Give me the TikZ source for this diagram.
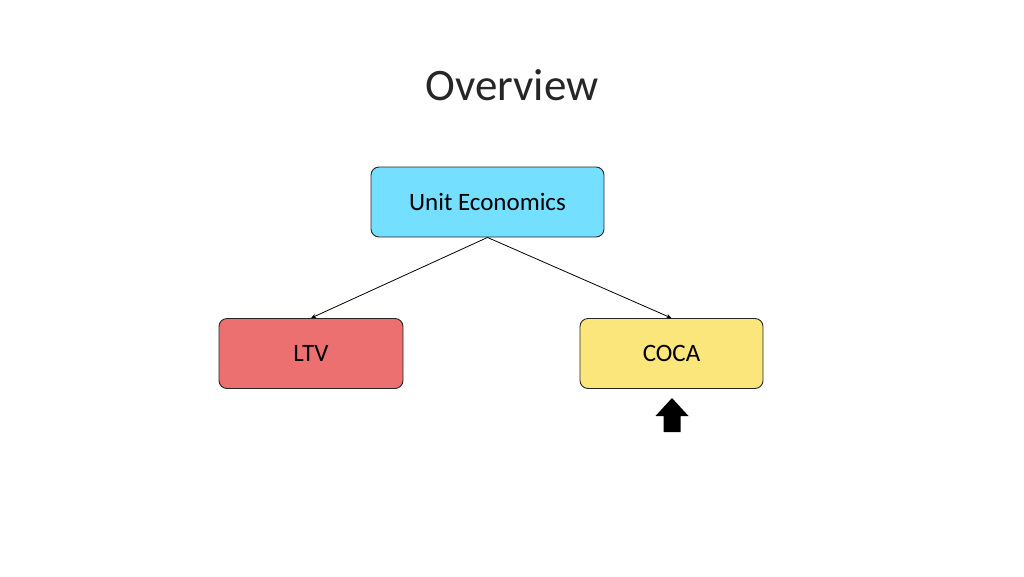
\documentclass[tikz,border=0pt]{standalone}
\usepackage{fontspec}
\setmainfont{Carlito}
\usetikzlibrary{arrows.meta}
\definecolor{boxblue}{RGB}{117,223,255}
\definecolor{boxred}{RGB}{236,112,112}
\definecolor{boxyellow}{RGB}{250,230,122}
\tikzset{
  box/.style={draw=black!85, line width=0.9pt, rounded corners=8pt, minimum width=#1, minimum height=70pt, inner sep=0pt, font=\fontsize{25}{30}\selectfont},
  conn/.style={-{Stealth[length=5pt,width=4pt]}, line width=0.8pt},
}
\begin{document}
\begin{tikzpicture}[x=1pt,y=-1pt]
\useasboundingbox (0,0) rectangle (1024,576);
\node[font=\fontsize{45}{54}\selectfont, text=black!85] (title) at (512,85) {Overview};
\node[box=233pt, fill=boxblue] (ue) at (487.5,202) {Unit Economics};
\node[box=184pt, fill=boxred] (ltv) at (311,353.5) {LTV};
\node[box=183pt, fill=boxyellow] (coca) at (671.5,353.5) {COCA};
\draw[conn] (ue.south) -- (ltv.north);
\draw[conn] (ue.south) -- (coca.north);
\coordinate (ar) at (672,398);
\fill[black] (ar) -- ++(16.5,18) -- ++(-8,0) -- ++(0,16) -- ++(-17,0) -- ++(0,-16) -- ++(-8,0) -- cycle;
\end{tikzpicture}
\end{document}
